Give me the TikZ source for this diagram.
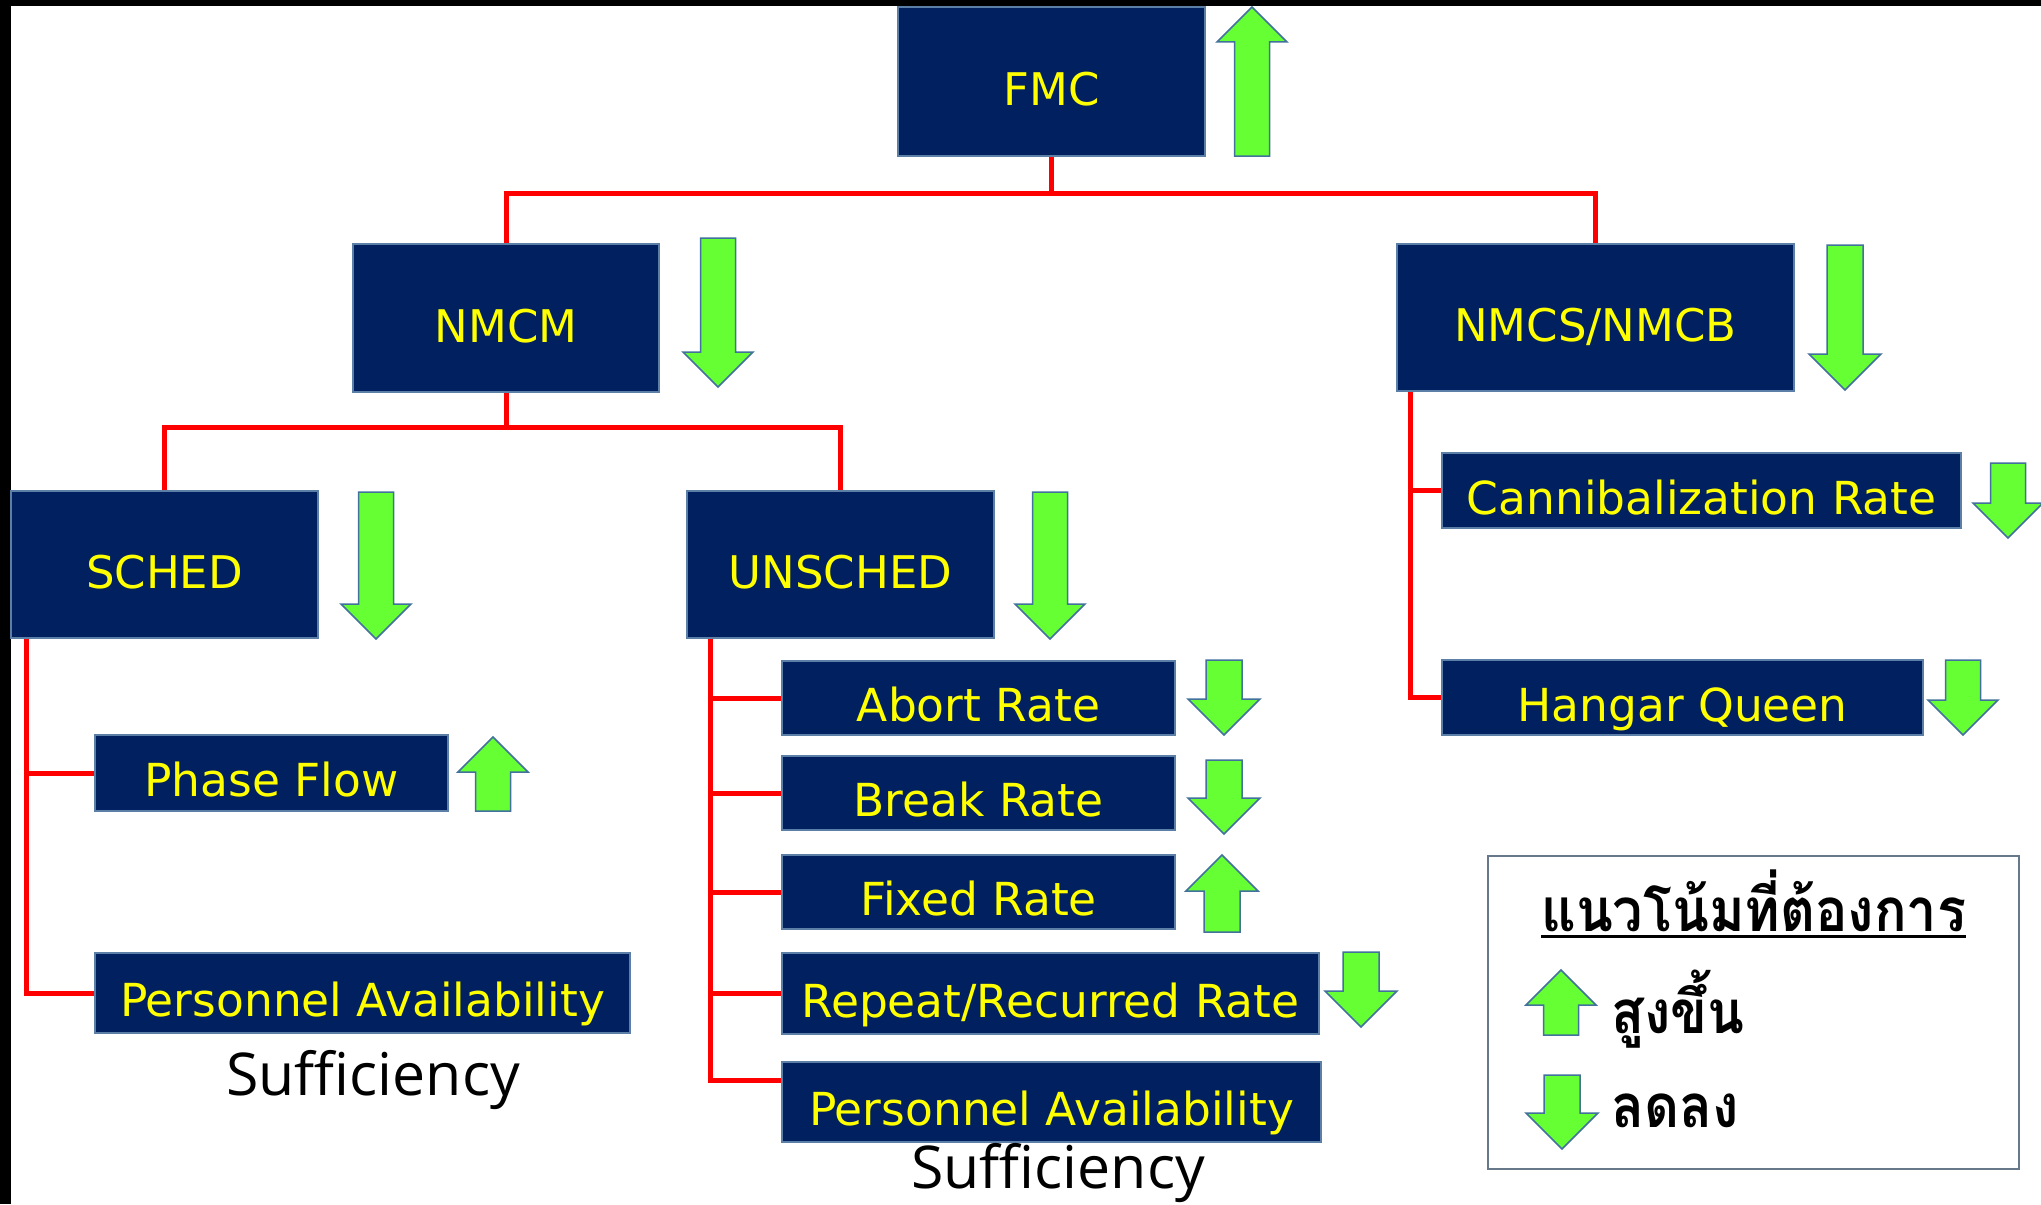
\documentclass[tikz,border=0pt]{standalone}
\usepackage{fontspec}
\usetikzlibrary{calc}
\newfontfamily\bigf{DejaVu Sans}
\newfontfamily\sufff{Open Sans}
\newfontfamily\thaif[Script=Thai,FakeStretch=0.9]{Loma}
\definecolor{navy}{HTML}{002060}
\definecolor{boxedge}{HTML}{5B7FA6}
\definecolor{ygold}{HTML}{FFFF00}
\definecolor{gfill}{HTML}{66FF33}
\definecolor{gedge}{HTML}{41719C}
\definecolor{legedge}{HTML}{66788A}
\definecolor{rline}{HTML}{FF0000}
\tikzset{
 topbox/.style={fill=navy, draw=boxedge, line width=1.5pt, inner sep=0pt, text=ygold,
   font=\bigf\fontsize{45}{51}\selectfont, text height=48pt, text depth=0pt},
 subbox/.style={fill=navy, draw=boxedge, line width=1.5pt, inner sep=0pt, text=ygold,
   font=\bigf\fontsize{45.5}{51}\selectfont, text height=47pt, text depth=0pt},
 redline/.style={draw=rline, line width=5pt},
 garrow/.style={fill=gfill, draw=gedge, line width=1.5pt, line join=miter},
 suff/.style={font=\sufff\fontsize{59}{65}\selectfont, inner sep=0pt, anchor=base},
 thaitxt/.style={font=\thaif\bfseries\fontsize{60}{66}\selectfont, inner sep=0pt},
}
% down arrow: centre x, top y, tip y, width
\newcommand\gdown[4]{%
 \draw[garrow] ({#1-#4/4},#2) -- ({#1+#4/4},#2) -- ({#1+#4/4},{#3-#4/2}) -- ({#1+#4/2},{#3-#4/2})
   -- (#1,#3) -- ({#1-#4/2},{#3-#4/2}) -- ({#1-#4/4},{#3-#4/2}) -- cycle;}
% up arrow: centre x, tip y, bottom y, width
\newcommand\gup[4]{%
 \draw[garrow] (#1,#2) -- ({#1+#4/2},{#2+#4/2}) -- ({#1+#4/4},{#2+#4/2}) -- ({#1+#4/4},#3)
   -- ({#1-#4/4},#3) -- ({#1-#4/4},{#2+#4/2}) -- ({#1-#4/2},{#2+#4/2}) -- cycle;}
\begin{document}
\begin{tikzpicture}[x=1pt,y=-1pt]
\useasboundingbox (0,0) rectangle (2041,1204);
\fill[white] (0,0) rectangle (2041,1204);
\fill[black] (0,0) rectangle (2041,6);
\fill[black] (0,0) rectangle (11,1204);

% top level boxes
\node[topbox, minimum width=307pt, minimum height=149pt] (fmc) at (1051.5,81.5) {FMC};
\node[topbox, minimum width=306pt, minimum height=148pt] (nmcm) at (506,318) {NMCM};
\node[topbox, minimum width=397pt, minimum height=147pt] (nmcs) at (1595.5,317.5) {NMCS/NMCB};
\node[topbox, minimum width=307pt, minimum height=147pt] (sched) at (164.5,564.5) {SCHED};
\node[topbox, minimum width=307pt, minimum height=147pt] (unsched) at (840.5,564.5) {UNSCHED};

% sub boxes
\node[subbox, minimum width=353pt, minimum height=76pt] (phase) at (271.5,773) {Phase Flow};
\node[subbox, minimum width=535pt, minimum height=80pt] (persL) at (362.5,993) {Personnel Availability};
\node[subbox, minimum width=393pt, minimum height=74pt] (abort) at (978.5,698) {Abort Rate};
\node[subbox, minimum width=393pt, minimum height=74pt] (break) at (978.5,793) {Break Rate};
\node[subbox, minimum width=393pt, minimum height=74pt] (fixed) at (978.5,892) {Fixed Rate};
\node[subbox, minimum width=537pt, minimum height=81pt] (repeat) at (1050.5,993.5) {Repeat/Recurred Rate};
\node[subbox, minimum width=539pt, minimum height=80pt] (persR) at (1051.5,1102) {Personnel Availability};
\node[subbox, minimum width=519pt, minimum height=75pt] (cann) at (1701.5,490.5) {Cannibalization Rate};
\node[subbox, minimum width=481pt, minimum height=75pt] (hq) at (1682.5,697.5) {Hangar Queen};

% labels below
\node[suff] (suffL) at (373,1095) {Sufficiency};
\node[suff] (suffR) at (1058,1188) {Sufficiency};

% red connectors
\coordinate (bus1) at ($(fmc.south)+(0,37)$);
\draw[redline] (fmc.south) -- (bus1);
\draw[redline] (nmcm.north) |- (bus1) -| (nmcs.north);
\coordinate (bus2) at ($(nmcm.south)+(0,35)$);
\draw[redline] (nmcm.south) -- (bus2);
\draw[redline] (sched.north) |- (bus2) -| (unsched.north);
\coordinate (t1) at ($(sched.south west)+(16,0)$);
\draw[redline] (t1) |- (phase.west);
\draw[redline] (t1) |- (persL.west);
\coordinate (t2) at ($(unsched.south west)+(24,0)$);
\coordinate (pr) at ($(persR.west)+(0,-22)$);
\draw[redline] (t2) |- (abort.west);
\draw[redline] (t2) |- (break.west);
\draw[redline] (t2) |- (fixed.west);
\draw[redline] (t2) |- (repeat.west);
\draw[redline] (t2) |- (pr);
\coordinate (t3) at ($(nmcs.south west)+(14,0)$);
\draw[redline] (t3) |- (cann.west);
\draw[redline] (t3) |- (hq.west);

% green trend arrows
\gup{1252}{7}{156}{70}
\gdown{718}{238}{387}{70}
\gdown{1845}{245}{390}{72}
\gdown{376}{492}{639}{70}
\gdown{1050}{492}{639}{70}
\gup{493}{737}{811}{70}
\gdown{1224}{660}{735}{72}
\gdown{1224}{760}{834}{72}
\gup{1222}{855}{932}{72}
\gdown{1361}{952}{1027}{72}
\gdown{2008}{463}{538}{70}
\gdown{1963}{660}{735}{70}

% legend
\node[draw=legedge, line width=2.5pt, minimum width=531pt, minimum height=313pt, inner sep=0pt] (legend) at (1753.5,1012.5) {};
\node[thaitxt, anchor=base west] (ltitle) at (1541,931) {แนวโน้มที่ต้องการ};
\draw[line width=3pt] ($(ltitle.base west)+(0,5)$) -- ($(ltitle.base east)+(0,5)$);
\gup{1561}{970}{1035}{70}
\node[thaitxt, anchor=base west] (lup) at (1611,1033) {สูงขึ้น};
\gdown{1562}{1075}{1149}{72}
\node[thaitxt, anchor=base west] (ldown) at (1611,1127) {ลดลง};
\end{tikzpicture}
\end{document}
